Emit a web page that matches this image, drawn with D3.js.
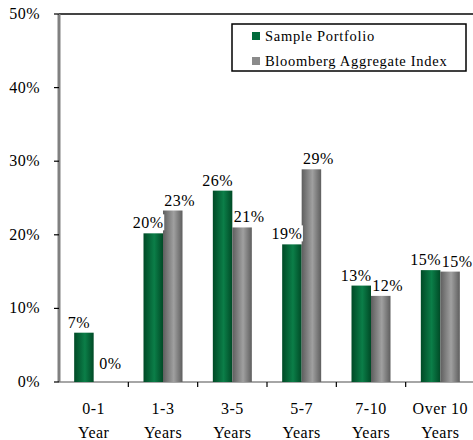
<!DOCTYPE html>
<html>
<head>
<meta charset="utf-8">
<script src="https://cdn.jsdelivr.net/npm/d3@7/dist/d3.min.js"></script>
<style>
  body { margin: 0; background: #fff; }
  text { font-family: "Liberation Serif", "DejaVu Serif", serif; fill: #000; letter-spacing: 0.5px; }
</style>
</head>
<body>
<div id="chart"></div>
<script>
const categories = ['0-1|Year', '1-3|Years', '3-5|Years', '5-7|Years', '7-10|Years', 'Over 10|Years'];
const seriesNames = ['Sample Portfolio', 'Bloomberg Aggregate Index'];
const portfolio = [6.7, 20.2, 26.0, 18.7, 13.1, 15.2];
const index = [0, 23.3, 21.0, 28.9, 11.7, 15.0];
const portfolioLabels = ['7%', '20%', '26%', '19%', '13%', '15%'];
const indexLabels = ['0%', '23%', '21%', '29%', '12%', '15%'];
const yTicks = [0, 10, 20, 30, 40, 50];

const MARGIN = { TOP: 14, LEFT: 59 };
const WIDTH = 473;
const HEIGHT = 440;
const INNER_WIDTH = 416;
const INNER_HEIGHT = 368;

const svg = d3.select('#chart')
    .append('svg')
    .attr('width', WIDTH)
    .attr('height', HEIGHT);

const defs = svg.append('defs');
function barGradient(id, dark, light) {
    const g = defs.append('linearGradient').attr('id', id)
        .attr('x1', '0%').attr('x2', '100%').attr('y1', '0%').attr('y2', '0%');
    g.append('stop').attr('offset', '0%').attr('stop-color', dark);
    g.append('stop').attr('offset', '55%').attr('stop-color', light);
    g.append('stop').attr('offset', '100%').attr('stop-color', dark);
}
barGradient('gGreen', '#004a26', '#0b7e48');
barGradient('gGray', '#5e5e5e', '#a0a0a0');

const g = svg.append('g')
    .attr('transform', `translate(${MARGIN.LEFT}, ${MARGIN.TOP})`);

const xScale = d3.scaleBand()
    .domain(categories)
    .range([0, INNER_WIDTH]);

const sub = d3.scaleBand()
    .domain(seriesNames)
    .range([0, 39])
    .padding(0);

const yScale = d3.scaleLinear()
    .domain([0, 50])
    .range([INNER_HEIGHT, 0]);

// frame: top line
g.append('line')
    .attr('x1', 0).attr('x2', INNER_WIDTH + 10)
    .attr('y1', 0).attr('y2', 0)
    .attr('stroke', '#444').attr('stroke-width', 2);

// bottom axis
const xAxis = g.append('g')
    .attr('transform', `translate(0, ${INNER_HEIGHT})`);
xAxis.append('line')
    .attr('x1', 0).attr('x2', INNER_WIDTH)
    .attr('stroke', '#888').attr('stroke-width', 1.5);
xAxis.selectAll('.tick')
    .data(categories.slice(1))
    .join('line')
    .attr('x1', (d) => xScale(d)).attr('x2', (d) => xScale(d))
    .attr('y1', 0).attr('y2', 5)
    .attr('stroke', '#000').attr('stroke-width', 1.2);

const xLabels = xAxis.selectAll('.xl')
    .data(categories)
    .join('text')
    .attr('text-anchor', 'middle')
    .attr('font-size', 16)
    .attr('x', (d) => xScale(d) + xScale.bandwidth() / 2);
xLabels.append('tspan').attr('x', (d) => xScale(d) + xScale.bandwidth() / 2)
    .attr('y', 32).text((d) => d.split('|')[0]);
xLabels.append('tspan').attr('x', (d) => xScale(d) + xScale.bandwidth() / 2)
    .attr('y', 56).text((d) => d.split('|')[1]);

// left axis
const yAxis = g.append('g');
yAxis.append('line')
    .attr('y1', 0).attr('y2', INNER_HEIGHT)
    .attr('stroke', '#808080').attr('stroke-width', 3);
yAxis.selectAll('line.tick')
    .data(yTicks)
    .join('line')
    .attr('class', 'tick')
    .attr('x1', -5).attr('x2', 0)
    .attr('y1', (d) => yScale(d)).attr('y2', (d) => yScale(d))
    .attr('stroke', '#000').attr('stroke-width', 1.2);
yAxis.selectAll('text')
    .data(yTicks)
    .join('text')
    .attr('text-anchor', 'end')
    .attr('font-size', 16)
    .attr('x', -19)
    .attr('y', (d) => yScale(d) + 5)
    .text((d) => `${d}%`);

// bars
const series = [
    { name: seriesNames[0], values: portfolio, labels: portfolioLabels, fill: 'url(#gGreen)', shift: -5 },
    { name: seriesNames[1], values: index, labels: indexLabels, fill: 'url(#gGray)', shift: 7 },
];
const groupOffset = (xScale.bandwidth() - 39) / 2;

series.forEach((s) => {
    const barX = (i) => xScale(categories[i]) + groupOffset + sub(s.name);
    g.append('g').selectAll('rect')
        .data(s.values)
        .join('rect')
        .attr('x', (d, i) => barX(i))
        .attr('width', sub.bandwidth())
        .attr('y', (d) => yScale(d))
        .attr('height', (d) => INNER_HEIGHT - yScale(d))
        .attr('fill', s.fill);
});

series.forEach((s) => {
    const barX = (i) => xScale(categories[i]) + groupOffset + sub(s.name);
    const lg = g.append('g').selectAll('g')
        .data(s.values)
        .join('g')
        .attr('transform', (d, i) => `translate(${barX(i) + sub.bandwidth() / 2 + s.shift}, ${Math.min(yScale(d) - 5, INNER_HEIGHT - 13)})`);
    lg.append('rect')
        .attr('x', -16).attr('y', -14)
        .attr('width', 32).attr('height', 16)
        .attr('fill', '#fff');
    lg.append('text')
        .attr('text-anchor', 'middle')
        .attr('font-size', 16)
        .text((d, i) => s.labels[i]);
});

// legend
const legend = svg.append('g').attr('transform', 'translate(232, 24)');
legend.append('rect')
    .attr('width', 234).attr('height', 47)
    .attr('fill', '#fff').attr('stroke', '#000').attr('stroke-width', 1.5);
const items = legend.selectAll('g')
    .data(series)
    .join('g')
    .attr('transform', (d, i) => `translate(20, ${12 + i * 25})`);
items.append('rect')
    .attr('width', 8).attr('height', 8).attr('y', -4)
    .attr('fill', (d, i) => (i === 0 ? '#006b3c' : '#8a8a8a'));
items.append('text')
    .attr('x', 13).attr('y', 5)
    .attr('font-size', 14.5)
    .style('letter-spacing', '0.7px')
    .text((d) => d.name);
</script>
</body>
</html>
